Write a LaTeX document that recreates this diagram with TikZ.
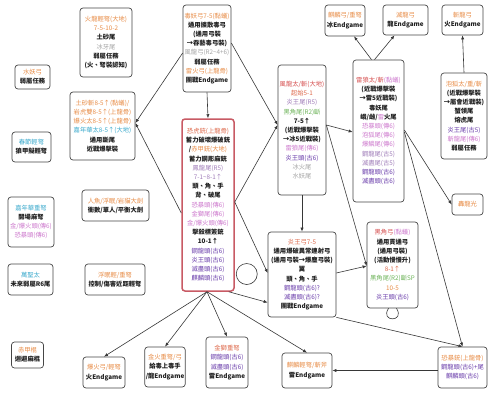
\documentclass[tikz,border=0pt]{standalone}
\usepackage{fontspec}
\setmainfont{Noto Sans CJK TC}
\usetikzlibrary{arrows.meta,calc}
\definecolor{cor}{RGB}{232,140,70}
\definecolor{cor2}{RGB}{222,105,75}
\definecolor{crd}{RGB}{214,78,78}
\definecolor{ccy}{RGB}{60,170,205}
\definecolor{cpk}{RGB}{205,120,205}
\definecolor{cpu}{RGB}{105,60,170}
\definecolor{cgp}{RGB}{160,125,185}
\definecolor{cgy}{RGB}{165,165,165}
\definecolor{cgn}{RGB}{110,180,90}
\definecolor{boxline}{RGB}{70,70,70}
\definecolor{mainline}{RGB}{200,90,100}
\definecolor{conline}{RGB}{55,55,55}
\definecolor{txt}{RGB}{30,30,30}
\newcommand\cOr[1]{\textcolor{cor}{\mdseries #1}}
\newcommand\cOt[1]{\textcolor{cor2}{\mdseries #1}}
\newcommand\cRd[1]{\textcolor{crd}{\mdseries #1}}
\newcommand\cCy[1]{\textcolor{ccy}{\mdseries #1}}
\newcommand\cPk[1]{\textcolor{cpk}{\mdseries #1}}
\newcommand\cPu[1]{\textcolor{cpu}{\mdseries #1}}
\newcommand\cGp[1]{\textcolor{cgp}{\mdseries #1}}
\newcommand\cGy[1]{\textcolor{cgy}{\mdseries #1}}
\newcommand\cGn[1]{\textcolor{cgn}{\mdseries #1}}
\begin{document}
\begin{tikzpicture}[x=1pt,y=-1pt,
  box/.style={draw=boxline, rounded corners=3pt, line width=0.7pt, fill=white,
    align=center, inner sep=1pt, font=\fontsize{6.3}{9.2}\selectfont\bfseries, text=txt},
  mainbox/.style={box, draw=mainline, line width=1.5pt},
  conn/.style={draw=conline, line width=0.6pt, -{Latex[length=4pt,width=3.2pt]}},
  loopst/.style={draw=conline, line width=0.6pt}]
\useasboundingbox (0,0) rectangle (497,400);
\fill[white] (0,0) rectangle (497,400);

% left column
\node[box, minimum width=52, minimum height=69] (huolong) at (106,42.5)
  {\cOr{火龍輕弩(大地)}\\ \cOr{7-5-10-2}\\ 土砂尾\\ \cGy{冰牙尾}\\ 弱屬任務\\ (火、弩裝認知)};
\node[box, minimum width=35, minimum height=24] (shuiyao) at (32.5,77)
  {\cOr{水妖弓}\\ 弱屬任務};
\node[box, minimum width=65, minimum height=68] (tusha) at (102.5,126)
  {\cOr{土砂斬8-5↑(黏蟻)/}\\ \cOr{岩虎雙8-5↑(上龍骨)}\\ \cOr{爆火太8-5↑(上龍骨)}\\ \cCy{嘉年華太8-5↑(大地)}\\ 通用斷尾\\ 近戰爆擊裝};
\node[box, minimum width=39, minimum height=30] (chunjie) at (31.5,147)
  {\cCy{春節輕弩}\\ 狼甲擬輕弩};
\node[box, minimum width=67, minimum height=31] (renyu) at (115.5,205.5)
  {\cOr{人魚/浮眠/岩貓大劍}\\ 衝數/單人/平衡大劍};
\node[box, minimum width=46, minimum height=50] (jnhzn) at (31,222)
  {\cCy{嘉年華重弩}\\ 開場麻弩\\ \cPk{金/爆火頭(傳6)}\\ \cPk{恐暴頭(傳6)}};
\node[box, minimum width=45, minimum height=31] (wansheng) at (30.5,279.5)
  {\cCy{萬聖太}\\ 未來弱屬R6尾};
\node[box, minimum width=60, minimum height=31] (fumian) at (115,279.5)
  {\cOr{浮眠輕/重弩}\\ 控制/傷害近距輕弩};
\node[box, minimum width=32, minimum height=26] (chijia) at (27.5,355)
  {\cOr{赤甲棍}\\ 迴避麻棍};

% bottom row
\node[box, minimum width=42, minimum height=31] (baohuo) at (104,372.5)
  {\cOr{爆火弓/輕弩}\\ 火Endgame};
\node[box, minimum width=40, minimum height=40] (jinhuo) at (165,367)
  {\cOr{金火重弩/弓}\\ 給毒上毒手\\ /龍Endgame};
\node[box, minimum width=42, minimum height=51] (jinshi) at (227,362.5)
  {\cOt{金獅重弩}\\ \cPu{鋼龍頭(古6)}\\ \cPu{滅盡頭(古6)}\\ 雷Endgame};
\node[box, minimum width=50, minimum height=35] (qilinqn) at (307,370.5)
  {\cOr{麒麟輕弩/斬斧}\\ 雷Endgame};
\node[box, minimum width=49, minimum height=41] (kongbao) at (462.5,367.5)
  {\cOr{恐暴銃(上龍骨)}\\ \cPu{鋼龍頭(古6)+尾}\\ \cPu{麒麟頭(古6)}};

% centre
\node[mainbox, minimum width=52, minimum height=172] (central) at (208,205)
  {\cOt{恐虎銃(上龍骨)}\\ 蓄力破壞爆破銃\\ /\cOr{赤甲銃(大地)}\\ 蓄力鋼彫麻銃\\ \cGp{鳳龍尾(R5)}\\ \cGp{7-1\textasciitilde 8-1↑}\\ 頭、角、手\\ 背、破尾\\ \cPk{恐暴頭(傳6)}\\ \cPk{金獅尾(傳6)}\\ \cPk{金/爆火頭(傳6)}\\ 擊殺標簽銃\\ 10-1↑\\ \cPu{鋼龍頭(古6)}\\ \cPu{炎王頭(古6)}\\ \cPu{滅盡頭(古6)}\\ \cPu{麒麟頭(古6)}};
\node[box, minimum width=48, minimum height=87] (duyao) at (207,48.5)
  {\cOr{毒妖弓7-5(黏蟻)}\\ 通用擴散毒弓\\ (通用弓裝\\ →吞藝毒弓裝)\\ \cGy{風龍弓(R2\textasciitilde 4+6)}\\ 弱屬任務\\ \cOr{雷火弓(上龍骨)}\\ 團戰Endgame};
\node[box, minimum width=48, minimum height=130] (fenglong) at (302,130)
  {\cRd{風龍太/斬(大地)}\\ \cOt{起始5-1}\\ \cGp{炎王尾(R5)}\\ \cGn{黑角尾(R2)斷}\\ 7-5↑\\ (近戰爆擊裝\\ →冰5近戰裝)\\ \cPk{雷狼尾(傳6)}\\ \cPu{炎王頭(古6)}\\ \cGy{冰火尾}\\ \cGy{水妖尾}};
\node[box, minimum width=68, minimum height=85] (yanwang) at (302,274.5)
  {\cOt{炎王弓7-5}\\ 通用爆破異常連射弓\\ (通用弓裝→爆塵弓裝)\\ 翼\\ 頭、角、手\\ \cPu{鋼龍頭(古6)?}\\ \cPu{滅盡頭(古6)?}\\ 團戰Endgame};

% right side
\node[box, minimum width=51, minimum height=142] (leilang) at (378.5,131)
  {\cRd{雷狼太/斬}\cPk{(黏蟻)}\\ (近戰爆擊裝\\ →雷5近戰裝)\\ 毒妖尾\\ 峨/雌/\cPk{雷}火尾\\ \cPk{恐暴頭(傳6)}\\ \cPk{泡狐尾(傳6)}\\ \cPk{爆鱗尾(傳6)}\\ \cGp{鋼龍尾(古5)}\\ \cGp{滅盡尾(古5)}\\ \cPu{鋼龍頭(古6)}\\ \cPu{滅盡頭(古6)}};
\node[box, minimum width=40, minimum height=31] (qilingong) at (345,20.5)
  {\cOr{麒麟弓/重弩}\\ 冰Endgame};
\node[box, minimum width=45, minimum height=30] (mielong) at (405.5,20)
  {\cOr{滅龍弓}\\ 龍Endgame};
\node[box, minimum width=41, minimum height=30] (zhanlong) at (462.5,20)
  {\cOr{斬龍弓}\\ 火Endgame};
\node[box, minimum width=46, minimum height=86] (paohu) at (464,116)
  {\cOr{泡狐太/重/斬}\\ (近戰爆擊裝\\ →屬會近戰裝)\\ 蟹領尾\\ 熔虎尾\\ \cPu{炎王尾(古5)}\\ \cPk{斬龍尾(傳6)}\\ 弱屬任務};
\node[box, minimum width=31, minimum height=21] (honglong) at (467.5,204.5)
  {\cOr{轟龍光}};
\node[box, minimum width=51, minimum height=86] (heijiao) at (392.5,265)
  {\cRd{黑角弓}\cPk{(黏蟻)}\\ 通用貫通弓\\ (通用弓裝)\\ (活動慢慢升)\\ \cOt{8-1↑}\\ \cGn{黑角尾(R2)斷SP}\\ \cOr{10-5}\\ \cPu{炎王頭(古6)}};

% named points
\coordinate (kbw) at ([yshift=-3pt]kongbao.west);
\coordinate (cse) at ([xshift=-6pt]central.south east);

% connectors
\draw[conn] ([yshift=-4.5pt]duyao.west) -- ([yshift=3pt]tusha.east);
\draw[conn] ([yshift=-8pt]central.west) -- ([yshift=3pt]tusha.east);
\draw[conn] (duyao.south) -- (central.north);
\draw[conn] ([yshift=5.5pt]duyao.east) -- ([yshift=5pt]fenglong.west);
\draw[conn] ([yshift=3pt]central.east) -- ([yshift=5pt]fenglong.west);
\draw[conn] ([yshift=3pt]central.east) -- ([yshift=1.5pt]yanwang.west);
\draw[conn] (cse) -- ([yshift=-28pt]yanwang.west);
\draw[conn] (fenglong.south) -- (yanwang.north);
\draw[conn] ([yshift=5pt]fenglong.east) -- ([yshift=-1pt]leilang.west);
\draw[conn] ([yshift=5pt]fenglong.east) -- ([yshift=-1pt]heijiao.west);
\draw[conn] ([yshift=1.5pt]yanwang.east) -- ([yshift=-1pt]heijiao.west);
\draw[conn] (yanwang.south east) -- (kongbao.north);
\draw[conn] ([xshift=-7pt]leilang.north) -- ([xshift=9pt]qilingong.south);
\draw[conn] ([xshift=-4pt]leilang.north) -- ([xshift=-11pt]mielong.south);
\draw[conn] (paohu.north) -- (zhanlong.south);
\draw[conn] ([yshift=1pt]leilang.east) -- (honglong.west);
\draw[conn] ([yshift=-1pt]leilang.east) -- (kongbao.north);
\draw[conn] (kbw) -- (qilinqn.east |- kbw);
\draw[conn] ([xshift=-1pt]central.south) -- (baohuo.north);
\draw[conn] ([xshift=-1pt]central.south) -- (jinhuo.north);
\draw[conn] ([xshift=-1pt]central.south) -- (jinshi.north);
\draw[conn] ([xshift=-1pt]central.south) -- (qilinqn.north);
% self loops
\draw[loopst] ([xshift=12pt,yshift=-69pt]central.east) circle (10.5pt);
\draw[loopst] ([xshift=-4pt]heijiao.south) .. controls +(-9,14) and +(9,14) .. ([xshift=4pt]heijiao.south);
\end{tikzpicture}
\end{document}
